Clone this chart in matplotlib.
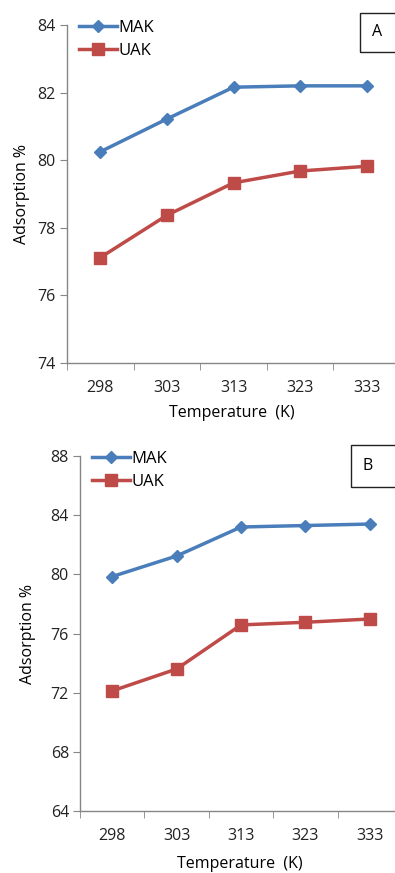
import matplotlib.pyplot as plt
from matplotlib.patches import Rectangle
from matplotlib.ticker import FixedLocator

temps = ["298", "303", "313", "323", "333"]
mak_a = [80.25, 81.22, 82.16, 82.2, 82.2]
uak_a = [77.12, 78.37, 79.33, 79.68, 79.82]
mak_b = [79.85, 81.24, 83.2, 83.3, 83.4]
uak_b = [72.12, 73.6, 76.58, 76.76, 76.98]

BLUE = "#4A7EBB"
RED = "#BE4B48"
GREY = "#868686"
W, H = 395, 873

plt.rcParams["font.family"] = ["Open Sans", "DejaVu Sans"]

fig = plt.figure(figsize=(W / 100, H / 100), dpi=100)


def px(x0, y0, x1, y1):
    # figure pixel box (top-left origin) -> axes rect
    return [x0 / W, 1 - y1 / H, (x1 - x0) / W, (y1 - y0) / H]


def panel(box_ax, mak, uak, ylim, yticks, label, box, leg_xy, xlab_xy, ylab_x):
    ax = fig.add_axes(px(*box_ax))
    xs = range(len(temps))
    ax.plot(xs, mak, color=BLUE, lw=2.5, marker="D", ms=6.5, label="MAK")
    ax.plot(xs, uak, color=RED, lw=2.5, marker="s", ms=8, label="UAK")
    ax.set_xlim(-0.5, len(temps) - 0.5)
    ax.set_ylim(*ylim)
    ax.set_yticks(yticks)
    ax.set_xticks(list(xs))
    ax.set_xticklabels(temps)
    ax.xaxis.set_minor_locator(FixedLocator([i - 0.5 for i in range(len(temps) + 1)]))
    ax.tick_params(axis="x", which="major", length=0, pad=12, labelsize=11.5, colors="#222222")
    ax.tick_params(axis="x", which="minor", length=5, color=GREY, direction="out")
    ax.tick_params(axis="y", length=5, color=GREY, labelsize=11.5, colors="#222222", pad=3)
    for s in ("top", "right"):
        ax.spines[s].set_visible(False)
    for s in ("left", "bottom"):
        ax.spines[s].set_color(GREY)
        ax.spines[s].set_linewidth(1.0)

    fig.text(xlab_xy[0] / W, 1 - xlab_xy[1] / H, "Temperature  (K)",
             ha="center", va="center", fontsize=11.5)
    yc = (box_ax[1] + box_ax[3]) / 2
    fig.text(ylab_x / W, 1 - yc / H, "Adsorption %", rotation=90,
             ha="center", va="center", fontsize=11.5)
    ax.legend(loc="upper left", bbox_to_anchor=(leg_xy[0] / W, 1 - leg_xy[1] / H),
              bbox_transform=fig.transFigure, frameon=False, handlelength=2.3,
              handletextpad=0.05, labelspacing=0.4, fontsize=12, borderpad=0,
              borderaxespad=0)

    x0, y0, x1, y1 = box
    fig.patches.append(Rectangle((x0 / W, 1 - y1 / H), (x1 - x0) / W, (y1 - y0) / H,
                                 transform=fig.transFigure, fill=False,
                                 edgecolor="#222222", lw=1.0))
    fig.text((x0 + 17) / W, 1 - (y0 + y1) / 2 / H, label, ha="center", va="center",
             fontsize=11.5)
    return ax


panel((67, 25, 400, 363), mak_a, uak_a, (74, 84), [74, 76, 78, 80, 82, 84], "A",
      (360, 13, 400, 52), (79, 20), (232, 413), 22)
panel((80, 456, 402, 811), mak_b, uak_b, (64, 88), [64, 68, 72, 76, 80, 84, 88], "B",
      (351, 445, 400, 487), (92, 451), (240, 864), 28)

fig.savefig("out.png", dpi=100)
